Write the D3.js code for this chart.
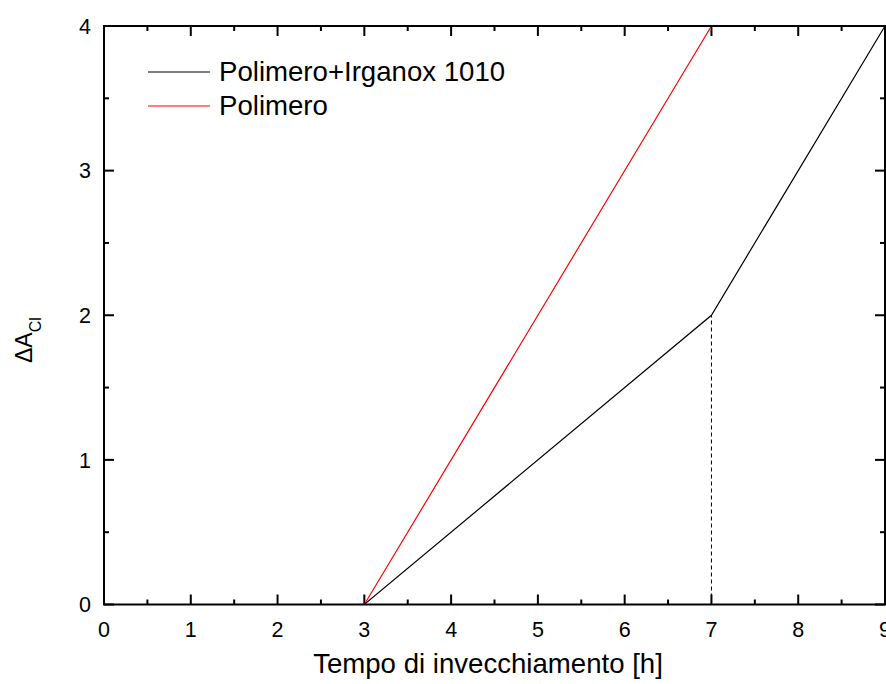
<!DOCTYPE html>
<html><head><meta charset="utf-8">
<script src="https://cdn.jsdelivr.net/npm/d3@7"></script>
<style>body{margin:0;background:#fff}svg{display:block;font-family:"Liberation Sans",Arial,sans-serif}</style>
</head><body><svg id="c" width="886" height="684"></svg>
<script>
const xTicks = [0,1,2,3,4,5,6,7,8,9];
const yTicks = [0,1,2,3,4];
const seriesIrganoxX = [0,3,7,9];
const seriesIrganoxY = [0,0,2,4];
const seriesPolX = [0,3,7];
const seriesPolY = [0,0,4];
const seriesNames = ["Polimero+Irganox 1010","Polimero"];
const seriesColors = ["#000000","#ff0000"];
const dropX = 7, dropY = 2;

const svg = d3.select("#c");
const L=104, R=885, T=26, B=604.5;
const x = d3.scaleLinear().domain([0,9]).range([L,R]);
const y = d3.scaleLinear().domain([0,4]).range([B,T]);

const minorX = d3.range(0,9.01,0.5);
const minorY = d3.range(0,4.01,0.5);

// ticks
const g = svg.append("g").attr("stroke","#000").attr("stroke-width",2);
minorX.forEach(v=>{
  const len = Number.isInteger(v)?10:5;
  g.append("line").attr("x1",x(v)).attr("x2",x(v)).attr("y1",B).attr("y2",B-len);
  g.append("line").attr("x1",x(v)).attr("x2",x(v)).attr("y1",T).attr("y2",T+len);
});
minorY.forEach(v=>{
  const len = Number.isInteger(v)?10:5;
  g.append("line").attr("y1",y(v)).attr("y2",y(v)).attr("x1",L).attr("x2",L+len);
  g.append("line").attr("y1",y(v)).attr("y2",y(v)).attr("x1",R).attr("x2",R-len);
});

// data lines
const line = d3.line().x(d=>x(d[0])).y(d=>y(d[1]));
svg.append("path").datum(seriesIrganoxX.map((v,i)=>[v,seriesIrganoxY[i]]))
  .attr("d",line).attr("fill","none").attr("stroke",seriesColors[0]).attr("stroke-width",1.2);
svg.append("path").datum(seriesPolX.map((v,i)=>[v,seriesPolY[i]]))
  .attr("d",line).attr("fill","none").attr("stroke",seriesColors[1]).attr("stroke-width",1.2);
svg.append("line").attr("x1",x(dropX)).attr("x2",x(dropX)).attr("y1",y(0)).attr("y2",y(dropY))
  .attr("stroke","#000").attr("stroke-width",1).attr("stroke-dasharray","4,3");

// frame
svg.append("rect").attr("x",L).attr("y",T).attr("width",R-L).attr("height",B-T)
  .attr("fill","none").attr("stroke","#000").attr("stroke-width",2);

// tick labels
svg.append("g").selectAll("text").data(xTicks).join("text")
  .attr("x",d=>x(d)).attr("y",637).attr("text-anchor","middle").attr("font-size",21.5).text(d=>d);
svg.append("g").selectAll("text").data(yTicks).join("text")
  .attr("x",91).attr("y",d=>y(d)+7.8).attr("text-anchor","end").attr("font-size",21.5).text(d=>d);

// axis titles
svg.append("text").attr("x",488).attr("y",673).attr("text-anchor","middle").attr("font-size",27.6)
  .text("Tempo di invecchiamento [h]");
const yt = svg.append("text").attr("transform","translate(32,363) rotate(-90)").attr("font-size",23);
yt.append("tspan").text("ΔA");
yt.append("tspan").attr("font-size",16).attr("dy",9).text("Cl");

// legend
seriesNames.forEach((n,i)=>{
  const yy = 72 + i*34;
  svg.append("line").attr("x1",148).attr("x2",210).attr("y1",yy).attr("y2",yy)
    .attr("stroke",seriesColors[i]).attr("stroke-width",1.2);
  svg.append("text").attr("x",219).attr("y",yy+8.5).attr("font-size",27.6).text(n);
});
</script></body></html>
